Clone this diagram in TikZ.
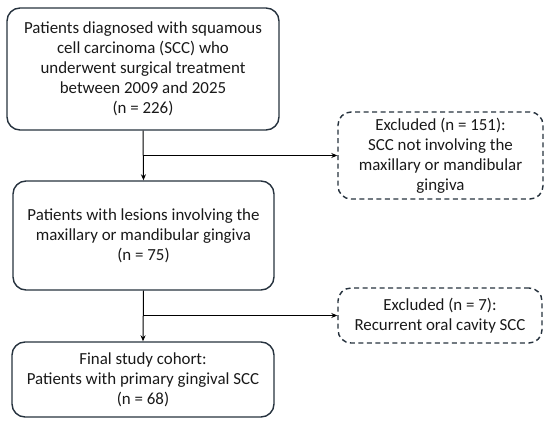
\documentclass[tikz,border=0pt]{standalone}
\usepackage{fontspec}
\setmainfont{Carlito}
\usetikzlibrary{arrows.meta}
\definecolor{edge}{RGB}{38,50,62}
\definecolor{txt}{RGB}{25,25,25}
\begin{document}
\begin{tikzpicture}[x=1pt,y=-1pt,
  box/.style={draw=edge, line width=1.4pt, rounded corners=13pt, rectangle, align=center,
    inner sep=0pt, text=txt, font=\fontsize{16.9}{20}\selectfont},
  exbox/.style={box, dashed, dash pattern=on 5pt off 3.5pt, line width=1.4pt},
  conn/.style={draw=black, line width=1pt},
  arr/.style={conn, -{Stealth[length=6pt,width=5pt]}}]
\useasboundingbox (0,0) rectangle (550,425);
\node[box, minimum width=272pt, minimum height=122pt] (b1) at (143,69)
  {Patients diagnosed with squamous\\cell carcinoma (SCC) who\\underwent surgical treatment\\between 2009 and 2025\\(n = 226)};
\node[box, minimum width=261pt, minimum height=109pt] (b2) at (143.5,235.5)
  {Patients with lesions involving the\\maxillary or mandibular gingiva\\(n = 75)};
\node[box, minimum width=262pt, minimum height=75pt] (b3) at (143,379.5)
  {Final study cohort:\\Patients with primary gingival SCC\\(n = 68)};
\node[exbox, minimum width=205pt, minimum height=87pt] (e1) at (440.5,155.5)
  {Excluded (n = 151):\\SCC not involving the\\maxillary or mandibular\\gingiva};
\node[exbox, minimum width=204pt, minimum height=55pt] (e2) at (440,315.5)
  {Excluded (n = 7):\\Recurrent oral cavity SCC};
\coordinate (j1) at (b1.south |- e1.west);
\coordinate (j2) at (b2.south |- e2.west);
\draw[arr] (b1.south) -- (b2.north);
\draw[arr] (j1) -- (e1.west);
\draw[arr] (b2.south) -- (b3.north);
\draw[arr] (j2) -- (e2.west);
\end{tikzpicture}
\end{document}
